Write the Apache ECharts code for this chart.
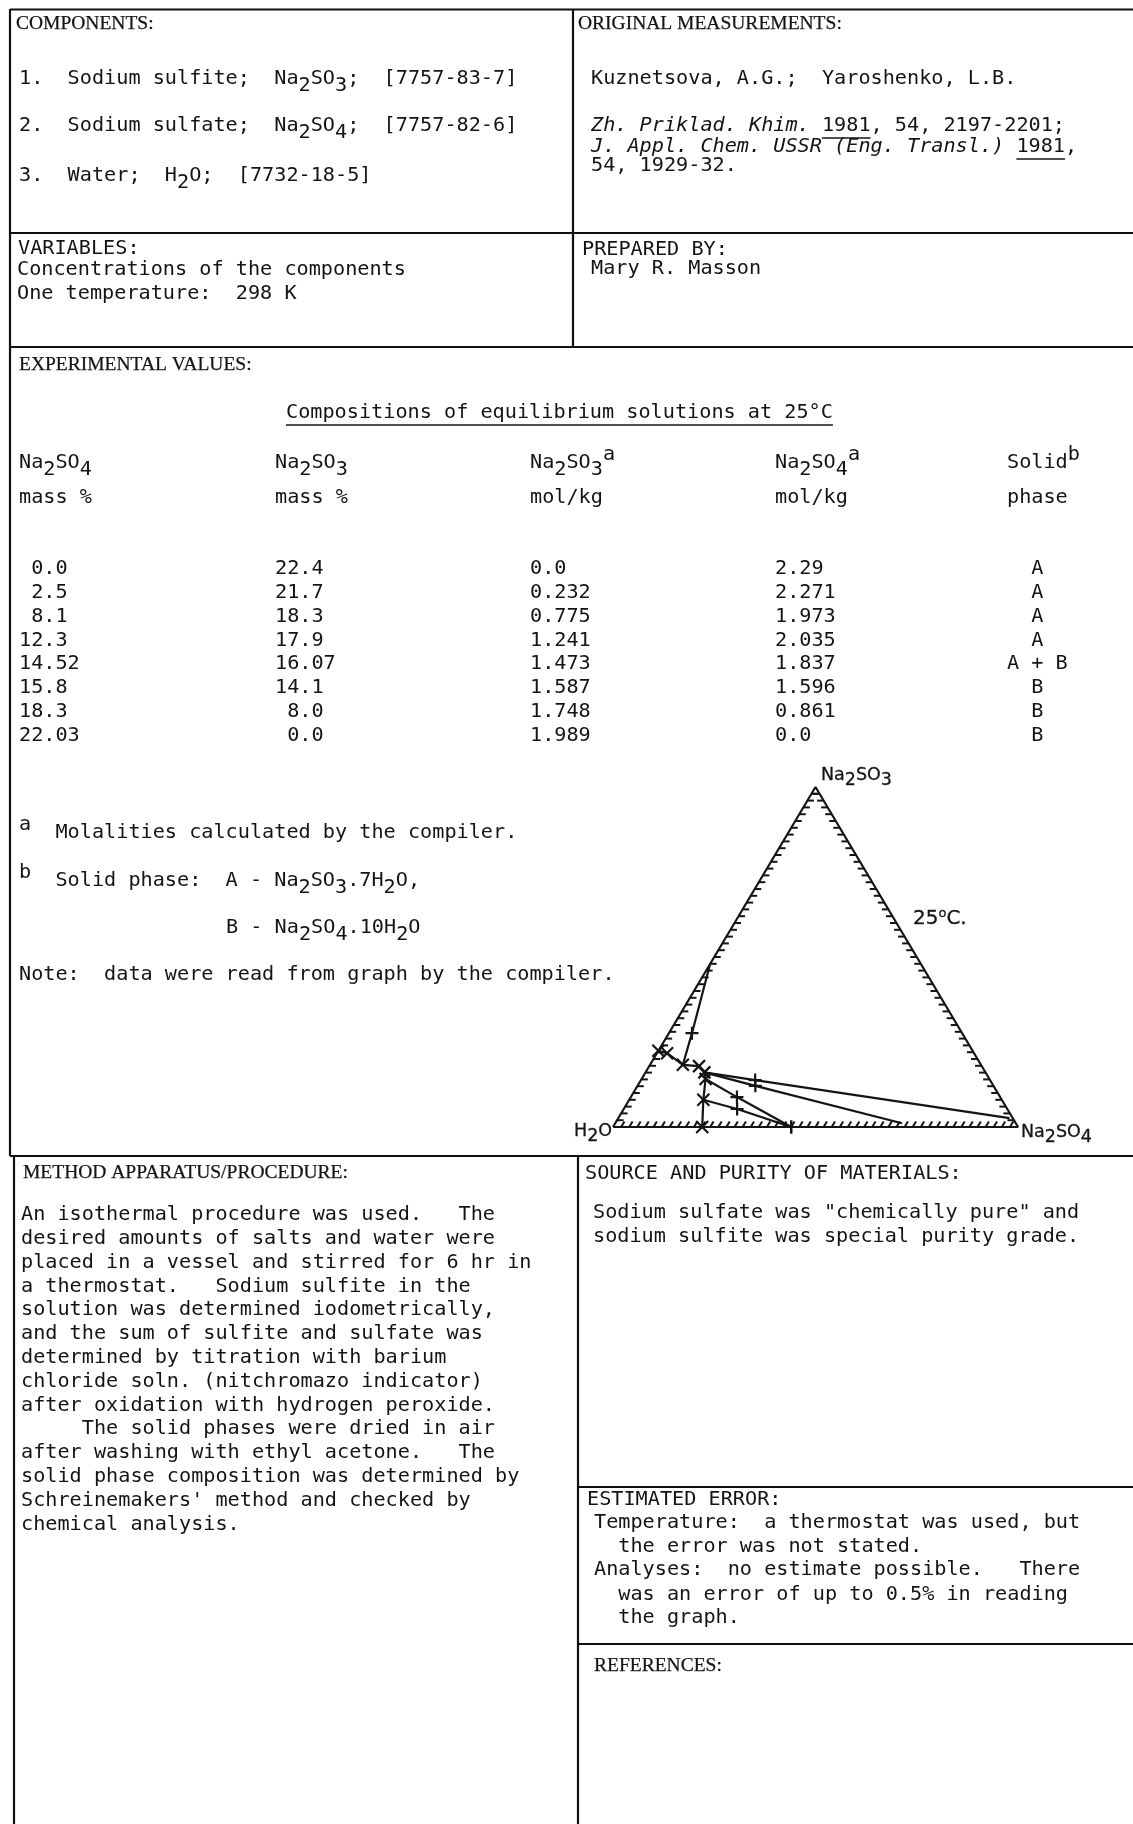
<!DOCTYPE html>
<html>
<head>
<meta charset="utf-8">
<script src="https://cdn.jsdelivr.net/npm/echarts/dist/echarts.min.js"></script>
<style>
  html, body { margin: 0; padding: 0; background: #fff; }
  #chart { width: 1133px; height: 1824px; }
</style>
</head>
<body>
<div id="chart"></div>
<script>
// ---- Table: compositions of equilibrium solutions at 25 °C ----
const massNa2SO4 = ['0.0', '2.5', '8.1', '12.3', '14.52', '15.8', '18.3', '22.03'];
const massNa2SO3 = ['22.4', '21.7', '18.3', '17.9', '16.07', '14.1', '8.0', '0.0'];
const molNa2SO3  = ['0.0', '0.232', '0.775', '1.241', '1.473', '1.587', '1.748', '1.989'];
const molNa2SO4  = ['2.29', '2.271', '1.973', '2.035', '1.837', '1.596', '0.861', '0.0'];
const solidPhase = ['A', 'A', 'A', 'A', 'A + B', 'B', 'B', 'B'];

// ---- Tie lines of the phase diagram (mass %: [Na2SO4, Na2SO3]) ----
const tieFromRow  = [2, 5, 6, 4, 4];                       // solution row the line starts from
const tieResidue  = [[5.7, 27.6], [26.2, 8.8], [28.0, 5.3], [28.2, 13.8], [29.1, 12.1]];
const tieEnd      = [[0, 48], [44, 0], [44, 0], [96.6, 2.6], [70.8, 1.1]];
const tieEndMark  = [false, true, true, false, false];

// tick positions along each side of the triangle, every 2 %
const sideTicks = [];
for (let t = 2; t < 100; t += 2) sideTicks.push(t);

const FS = 20.2;
const MONO = '"DejaVu Sans Mono", "Liberation Mono", monospace';
const SERIF = '"Liberation Serif", serif';
const SANS = '"DejaVu Sans", sans-serif';
const INK = '#141414';

const measureCtx = document.createElement('canvas').getContext('2d');
function textW(s, font) { measureCtx.font = font; return measureCtx.measureText(s).width; }

const graphics = [];

// One line of text; "_x" lowers and "^x" raises the single character x.
function line(x, y, s, o = {}) {
  const size = o.size || FS;
  const fam = o.family || MONO;
  const scriptSize = o.scriptSize || size;
  const sub = o.sub != null ? o.sub : size * 0.34;
  const sup = o.sup != null ? o.sup : size * 0.4;
  const runs = [];
  for (let i = 0; i < s.length; i++) {
    let ch = s[i], dy = 0, sz = size;
    if ((ch === '_' || ch === '^') && i + 1 < s.length) {
      dy = ch === '_' ? sub : -sup; sz = scriptSize; ch = s[++i];
    }
    const last = runs[runs.length - 1];
    if (last && last.dy === dy) last.t += ch; else runs.push({ t: ch, dy, sz });
  }
  let cx = x;
  runs.forEach(r => {
    const font = (o.italic ? 'italic ' : '') + r.sz + 'px ' + fam;
    graphics.push({
      type: 'text', x: cx, y: y + r.dy, silent: true,
      style: { text: r.t, font, fill: INK, align: 'left', verticalAlign: 'middle',
               textAlign: 'left', textVerticalAlign: 'middle',
               stroke: o.weight ? INK : null, lineWidth: o.weight || 0 }
    });
    cx += textW(r.t, font);
  });
  if (o.underline) {
    graphics.push({ type: 'line', silent: true,
      shape: { x1: x, y1: y + size * 0.6, x2: cx, y2: y + size * 0.6 },
      style: { stroke: INK, lineWidth: 1.5 } });
  }
  return cx;
}

function rule(x1, y1, x2, y2, w) {
  graphics.push({ type: 'line', silent: true, shape: { x1, y1, x2, y2 },
    style: { stroke: '#111', lineWidth: w || 2.2 } });
}

const HEAD = { family: SERIF, size: 19.5, weight: 0.25 };

// ---- Form frame ----
rule(10, 9.5, 1133, 9.5);
rule(10, 9, 10, 1156);
rule(573, 9, 573, 347);
rule(10, 233, 1133, 233);
rule(10, 347, 1133, 347);
rule(10, 1156, 1133, 1156);
rule(14, 1156, 14, 1824);
rule(578, 1156, 578, 1824);
rule(578, 1487, 1133, 1487);
rule(578, 1644, 1133, 1644);

// ---- Components / variables ----
line(16, 24, 'COMPONENTS:', HEAD);
line(19, 79, '1.  Sodium sulfite;  Na_2SO_3;  [7757-83-7]');
line(19, 126, '2.  Sodium sulfate;  Na_2SO_4;  [7757-82-6]');
line(19, 176, '3.  Water;  H_2O;  [7732-18-5]');
line(18, 249, 'VARIABLES:');
line(17, 270, 'Concentrations of the components');
line(17, 294, 'One temperature:  298 K');

// ---- Original measurements / prepared by ----
line(578, 24, 'ORIGINAL MEASUREMENTS:', HEAD);
line(591, 79, 'Kuznetsova, A.G.;  Yaroshenko, L.B.');
let cx = line(591, 126, 'Zh. Priklad. Khim. ', { italic: true });
cx = line(cx, 126, '1981', { underline: true });
line(cx, 126, ', 54, 2197-2201;');
cx = line(591, 147, 'J. Appl. Chem. USSR (Eng. Transl.)', { italic: true });
cx = line(cx, 147, ' ');
cx = line(cx, 147, '1981', { underline: true });
line(cx, 147, ',');
line(591, 166, '54, 1929-32.');
line(582, 250, 'PREPARED BY:');
line(591, 269, 'Mary R. Masson');

// ---- Experimental values ----
line(19, 365, 'EXPERIMENTAL VALUES:', HEAD);
line(286, 413, 'Compositions of equilibrium solutions at 25°C', { underline: true });

const colX = [19, 275, 530, 775, 1007];
line(colX[0], 463, 'Na_2SO_4');
line(colX[1], 463, 'Na_2SO_3');
line(colX[2], 463, 'Na_2SO_3^a');
line(colX[3], 463, 'Na_2SO_4^a');
line(colX[4], 463, 'Solid^b');
line(colX[0], 498, 'mass %');
line(colX[1], 498, 'mass %');
line(colX[2], 498, 'mol/kg');
line(colX[3], 498, 'mol/kg');
line(colX[4], 498, 'phase');

massNa2SO4.forEach((v, i) => {
  const y = 569 + i * 23.8;
  line(colX[0], y, v.padStart(4, ' '));
  line(colX[1], y, massNa2SO3[i].padStart(4, ' '));
  line(colX[2], y, molNa2SO3[i]);
  line(colX[3], y, molNa2SO4[i]);
  const p = solidPhase[i];
  line(colX[4], y, p.length === 1 ? '  ' + p : p);
});

line(19, 833, '^a  Molalities calculated by the compiler.');
line(19, 881, '^b  Solid phase:  A - Na_2SO_3.7H_2O,');
line(226, 928, 'B - Na_2SO_4.10H_2O');
line(19, 975, 'Note:  data were read from graph by the compiler.');

// ---- Method ----
line(23, 1173, 'METHOD APPARATUS/PROCEDURE:', HEAD);
[
  'An isothermal procedure was used.   The',
  'desired amounts of salts and water were',
  'placed in a vessel and stirred for 6 hr in',
  'a thermostat.   Sodium sulfite in the',
  'solution was determined iodometrically,',
  'and the sum of sulfite and sulfate was',
  'determined by titration with barium',
  'chloride soln. (nitchromazo indicator)',
  'after oxidation with hydrogen peroxide.',
  '     The solid phases were dried in air',
  'after washing with ethyl acetone.   The',
  'solid phase composition was determined by',
  "Schreinemakers' method and checked by",
  'chemical analysis.'
].forEach((t, i) => line(21, 1215 + i * 23.8, t));

// ---- Source, error, references ----
line(585, 1174, 'SOURCE AND PURITY OF MATERIALS:');
line(593, 1213, 'Sodium sulfate was "chemically pure" and');
line(593, 1237, 'sodium sulfite was special purity grade.');
line(587, 1500, 'ESTIMATED ERROR:');
line(594, 1523, 'Temperature:  a thermostat was used, but');
line(594, 1547, '  the error was not stated.');
line(594, 1570, 'Analyses:  no estimate possible.   There');
line(594, 1595, '  was an error of up to 0.5% in reading');
line(594, 1618, '  the graph.');
line(594, 1666, 'REFERENCES:', HEAD);

// ---- Triangle labels ----
const lab = { family: SANS, size: 17.5, sub: 5, weight: 0.3 };
line(821, 775, 'Na_2SO_3', lab);
line(1021, 1132, 'Na_2SO_4', lab);
line(574, 1131, 'H_2O', lab);
line(913, 919, '25^oC.', { family: SANS, size: 20, scriptSize: 13, sup: 5, weight: 0.3 });

// ternary (Na2SO4 %, Na2SO3 %) -> cartesian grid value
function toXY(s4, s3) { return [s4 + s3 / 2, s3]; }

const X_MARK = 'path://M0,0L10,10M10,0L0,10';
const PLUS_MARK = 'path://M5,0L5,10M0,5L10,5';

const series = [];

// triangle frame
series.push({
  type: 'line', silent: true, symbol: 'none', z: 2,
  data: [toXY(0, 0), toXY(0, 100), toXY(100, 0), toXY(0, 0)],
  lineStyle: { color: INK, width: 2.2 }
});

// side ticks: horizontal on the two sloping sides, parallel to the H2O side on the base
series.push({
  type: 'custom', silent: true, z: 2, clip: false,
  data: sideTicks.map(t => [t, 0]),
  encode: { x: 0, y: 1 },
  renderItem(params, api) {
    const t = api.value(0);
    const len = 6.5;
    const L = api.coord(toXY(0, t));
    const R = api.coord(toXY(100 - t, t));
    const B = api.coord(toXY(t, 0));
    const o = api.coord(toXY(0, 0)), top = api.coord(toXY(0, 100));
    const dx = top[0] - o[0], dy = top[1] - o[1], n = Math.hypot(dx, dy);
    const st = { stroke: INK, lineWidth: 2 };
    return {
      type: 'group',
      children: [
        { type: 'line', shape: { x1: L[0], y1: L[1], x2: L[0] + len, y2: L[1] }, style: st },
        { type: 'line', shape: { x1: R[0], y1: R[1], x2: R[0] - len, y2: R[1] }, style: st },
        { type: 'line', shape: { x1: B[0], y1: B[1], x2: B[0] + dx / n * len, y2: B[1] + dy / n * len }, style: st }
      ]
    };
  }
});

// solubility isotherm through the measured solutions
series.push({
  type: 'line', silent: true, z: 4,
  data: massNa2SO4.map((v, i) => toXY(Number(v), Number(massNa2SO3[i]))),
  symbol: X_MARK, symbolSize: 12, showAllSymbol: true,
  lineStyle: { color: INK, width: 2.2 },
  itemStyle: { color: INK, borderColor: INK, borderWidth: 2.2 }
});

// tie lines with wet-residue points
tieFromRow.forEach((row, k) => {
  series.push({
    type: 'line', silent: true, z: 3, showAllSymbol: true,
    data: [
      { value: toXY(Number(massNa2SO4[row]), Number(massNa2SO3[row])), symbol: 'none' },
      { value: toXY(tieResidue[k][0], tieResidue[k][1]), symbol: PLUS_MARK },
      { value: toXY(tieEnd[k][0], tieEnd[k][1]), symbol: tieEndMark[k] ? PLUS_MARK : 'none' }
    ],
    symbolSize: 13,
    lineStyle: { color: INK, width: 2.2 },
    itemStyle: { color: INK, borderColor: INK, borderWidth: 2.2 }
  });
});

const chart = echarts.init(document.getElementById('chart'), null, { renderer: 'canvas' });
chart.setOption({
  animation: false,
  backgroundColor: '#ffffff',
  grid: { left: 613, top: 787, width: 405, height: 340 },
  xAxis: { type: 'value', min: 0, max: 100, show: false },
  yAxis: { type: 'value', min: 0, max: 100, show: false },
  series,
  graphic: { elements: graphics }
});
</script>
</body>
</html>
